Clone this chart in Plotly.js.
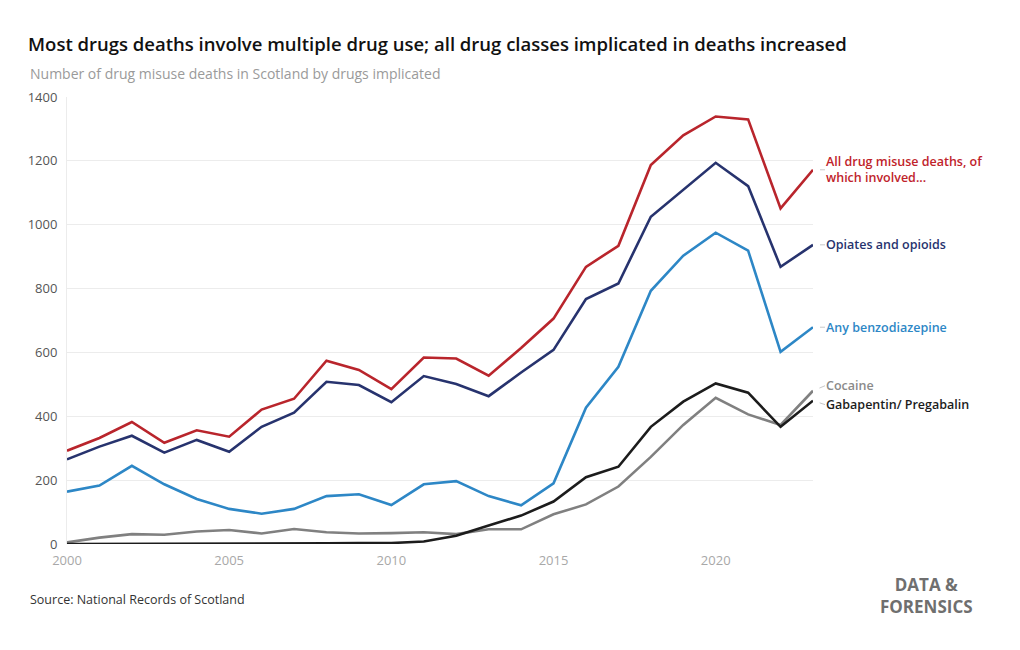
<!DOCTYPE html>
<html>
<head>
<meta charset="utf-8">
<script src="https://cdn.plot.ly/plotly-3.0.1.min.js"></script>
<style>
  html, body { margin: 0; padding: 0; background: #fff; }
  #chart { width: 1020px; height: 650px; }
</style>
</head>
<body>
<div id="chart"></div>
<script>
const years = [2000,2001,2002,2003,2004,2005,2006,2007,2008,2009,2010,2011,2012,2013,2014,2015,2016,2017,2018,2019,2020,2021,2022,2023];
const allDeaths = [292,332,382,317,356,336,421,455,574,545,485,584,581,527,614,706,868,934,1187,1280,1339,1330,1051,1172];
const opiates   = [265,305,339,286,326,289,367,411,508,498,444,526,501,463,537,608,767,816,1025,1109,1194,1121,868,937];
const benzo     = [164,183,245,187,141,110,95,110,150,156,122,187,197,150,121,190,427,555,793,903,975,919,602,679];
const cocaine   = [5,20,31,29,39,44,33,47,37,33,34,37,31,46,46,93,124,180,273,373,458,406,373,480];
const gabapentin= [0,0,0,0,0,0,0,0,2,3,3,8,26,58,89,133,209,242,367,446,503,474,367,449];
const seriesNames = ["All drug misuse deaths, of<br>which involved...", "Opiates and opioids", "Any benzodiazepine", "Cocaine", "Gabapentin/ Pregabalin"];
const xTicks = [2000,2005,2010,2015,2020];
const yTicks = [0,200,400,600,800,1000,1200,1400];

const FONT = "'Open Sans', 'Noto Sans', sans-serif";
const series = [
  {y: allDeaths, color: '#b9252c', text: '#c0232b', yshift: 0},
  {y: opiates, color: '#27336e', text: '#27336e', yshift: 0},
  {y: benzo, color: '#2d87c6', text: '#2d87c6', yshift: 0},
  {y: cocaine, color: '#808080', text: '#8a8a8a', yshift: 5},
  {y: gabapentin, color: '#1c1c1c', text: '#1c1c1c', yshift: -4}
];
const order = [3,4,2,1,0];
const traces = order.map(i => ({
  x: years, y: series[i].y, type: 'scatter', mode: 'lines',
  line: {color: series[i].color, width: 2.6},
  hoverinfo: 'skip', showlegend: false, cliponaxis: false
}));

const annotations = series.map((s, i) => ({
  x: years[years.length-1], y: s.y[s.y.length-1], xref: 'x', yref: 'y',
  text: seriesNames[i], showarrow: true, arrowhead: 0, arrowwidth: 1, arrowcolor: '#c8c8c8',
  ax: 12, ay: -s.yshift, standoff: 7,
  xanchor: 'left', yanchor: 'middle', align: 'left', borderpad: 0,
  font: {family: FONT, size: 12.5, color: s.text, weight: 600}
}));
annotations.push({
  xref: 'paper', yref: 'paper', x: -0.052, y: -0.125, xanchor: 'left', yanchor: 'middle',
  text: 'Source: National Records of Scotland', showarrow: false,
  font: {family: FONT, size: 12.5, color: '#333'}
});
annotations.push({
  xref: 'paper', yref: 'paper', x: 1.217, y: -0.115, xanchor: 'right', yanchor: 'middle', align: 'center',
  text: 'DATA &amp;<br>FORENSICS', showarrow: false,
  font: {family: FONT, size: 17, color: '#6f6f6f', weight: 700}
});
annotations.push({
  xref: 'paper', yref: 'paper', x: -0.052, y: 1.052, xanchor: 'left', yanchor: 'middle',
  text: 'Number of drug misuse deaths in Scotland by drugs implicated', showarrow: false,
  font: {family: FONT, size: 14, color: '#9a9a9a'}
});

const layout = {
  width: 1020, height: 650,
  paper_bgcolor: '#fff', plot_bgcolor: '#fff',
  margin: {l: 67, r: 207, t: 97, b: 106},
  title: {
    text: 'Most drugs deaths involve multiple drug use; all drug classes implicated in deaths increased',
    x: 0.0275, xanchor: 'left', y: 0.932, yanchor: 'middle',
    font: {family: FONT, size: 18.5, color: '#111', weight: 600}
  },
  xaxis: {
    range: [2000, 2023], tickvals: xTicks, ticktext: xTicks.map(String),
    showgrid: false, zeroline: false, showline: false, ticks: '', ticklabelstandoff: 7,
    tickfont: {family: FONT, size: 13, color: '#a8a8a8'}, fixedrange: true
  },
  yaxis: {
    range: [0, 1400], tickvals: yTicks, ticktext: yTicks.map(String),
    showgrid: true, gridcolor: '#ececec', gridwidth: 1, zeroline: false,
    showline: true, linecolor: '#ececec', linewidth: 1, ticks: '', ticklabelstandoff: 6,
    tickfont: {family: FONT, size: 13, color: '#555'}, fixedrange: true
  },
  annotations: annotations,
  showlegend: false
};
Plotly.newPlot('chart', traces, layout, {displayModeBar: false, staticPlot: true});
</script>
</body>
</html>
